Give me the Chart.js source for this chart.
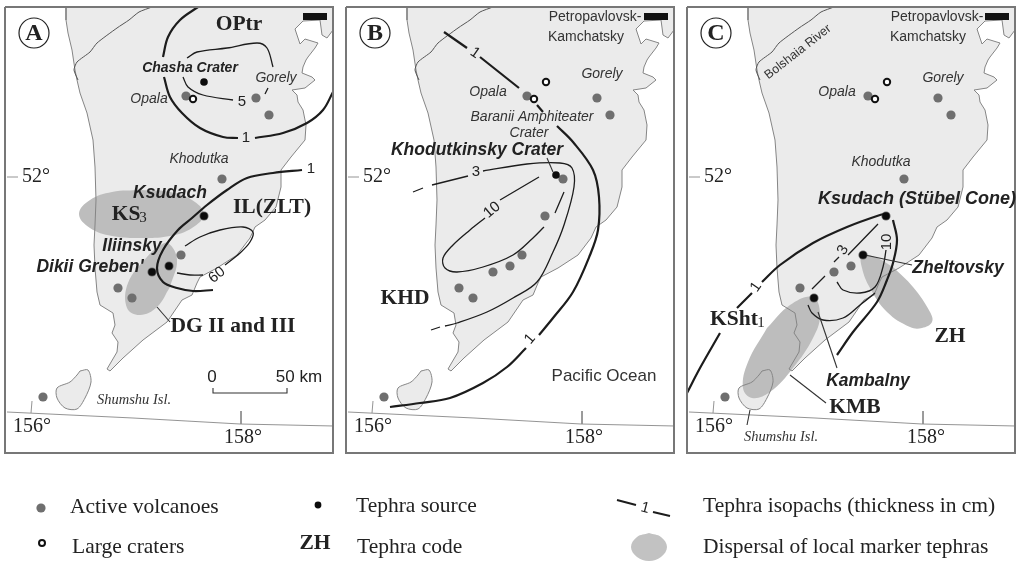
<!DOCTYPE html>
<html>
<head>
<meta charset="utf-8">
<title>Kamchatka tephra maps</title>
<script src="https://cdn.jsdelivr.net/npm/chart.js@4"></script>
<style>
  html, body { margin: 0; padding: 0; background: #fff; }
  canvas { position: absolute; }
</style>
</head>
<body>
<canvas id="panelA" width="340" height="460" style="left:0;top:0"></canvas>
<canvas id="panelB" width="340" height="460" style="left:341px;top:0"></canvas>
<canvas id="panelC" width="340" height="460" style="left:682px;top:0"></canvas>
<canvas id="legend" width="1022" height="101" style="left:0;top:460px"></canvas>
<script>
var coastline = [[66,7],[66,20],[68,33],[72,50],[75,70],[77,80],[80,93],[87,113],[93,140],[95,167],[96,200],[95,225],[94,245],[95,268],[97,292],[100,305],[113,313],[115,325],[112,333],[118,342],[117,352],[107,369],[110,371],[123,358],[143,340],[167,322],[182,300],[192,295],[197,283],[200,277],[217,268],[237,255],[250,238],[255,227],[265,220],[276,207],[281,187],[281,170],[291,157],[305,140],[306,125],[303,110],[298,102],[297,95],[292,90],[305,88],[315,80],[312,77],[302,73],[303,67],[306,60],[308,57],[315,48],[318,43],[305,39],[300,44],[298,38],[295,29],[303,21],[320,20],[322,35],[327,38],[333,30]];
var landCorner = [[333,7],[66,7]];
var island = [[80,371],[88,370],[91,382],[85,398],[77,409],[65,408],[57,398],[57,388],[70,382],[77,375],[80,371]];
var river = [[152,7],[139,12],[129,20],[117,28],[97,43],[90,52],[77,62],[74,70],[78,80]];
var parallel = [[7,412],[133,418],[240,424],[334,426]];
var tick156 = [[32,401],[31,413]];
var tick158 = [[241,411],[241,424]];
var tick52 = [[7,177],[18,177]];
var frame = [[5,7],[333,7],[333,453],[5,453],[5,7]];
var city = [[303,16.5],[327,16.5]];
var letterRing = [[34,33]];

var activeVolcanoes = [[186,96],[256,98],[269,115],[222,179],[204,216],[181,255],[169,266],[152,272],[118,288],[132,298],[43,397]];
var cratersBC = [[205,82],[193,99]];
var craterA = [[193,99]];
var sourcesA = [[204,82],[204,216],[169,266],[152,272]];
var sourcesB = [[215,175]];
var sourcesC = [[204,216],[181,255],[132,298]];

// dispersal outlines, each starts on a long side so the seam does not show
var ks3 = [[141,190],[170,192],[192,200],[204,214],[192,228],[170,236],[141,238],[112,236],[90,228],[79,214],[90,200],[112,192],[141,190]];
var dg = [[170,287],[157,307],[140,315],[127,308],[128,283],[147,257],[158,247],[168,243],[177,260],[170,287]];
var zh = [[211,267],[231,287],[248,312],[250,322],[240,328],[228,327],[205,312],[188,288],[180,268],[180,255],[195,258],[211,267]];
var kmb = [[85,328],[108,305],[131,297],[138,315],[131,338],[111,368],[88,392],[70,398],[61,388],[66,362],[85,328]];

// isopachs, a null pair is a gap in the line
var gap = [null,null];
var opTr1 = [[198,7],[180,20],[168,37],[163,57],gap,[164,77],[170,97],[182,113],[200,128],[223,137],[238,138],gap,[255,138],[283,133],[307,123],[323,110],[333,92]];
var opTr5a = [[187,58],[197,52],[227,48],[257,43],[267,48],[273,67],gap,[268,88],[265,94]];
var opTr5b = [[183,77],[188,87],[203,95],[233,100]];
var il1 = [[302,170],[273,173],[247,178],[227,190],[207,205],[192,218],[178,230],[163,250],[157,268],[163,282],[177,288],[193,291],[213,290]];
var il60 = [[185,246],[200,237],[220,230],[243,227],[253,232],[250,242],[240,253],[225,265],gap,[203,275],[190,275],[177,273]];
var khd1 = [[103,32],[126,48],gap,[139,57],[178,88],gap,[196,105],[202,112],gap,[216,126],[232,142],[252,170],[258,197],[257,230],[249,255],[232,292],[212,318],[198,335],gap,[185,348],[166,367],[142,383],[109,398],[79,403],[49,407]];
var khd3 = [[72,192],[82,188],gap,[91,185],[127,176],gap,[142,171],[186,164],[219,163],[231,168],[233,187],[223,225],[212,252],[196,282],[172,298],[146,312],[116,323],[104,326],gap,[99,327],[90,330]];
var khd10 = [[198,177],[159,200],gap,[144,218],[129,230],[112,245],[102,258],[104,268],[116,272],[142,267],[172,255],[192,238],[203,227],gap,[214,213],[223,192]];
var ksht1a = [[5,393],[18,368],[38,333],gap,[55,308],[70,293],gap,[80,282],[98,265],[131,243],[165,227],[198,215],[204,214]];
var ksht1b = [[211,220],[215,240],[211,263],[205,280],[195,302],[171,332],[155,355]];
var ksht10 = [[204,250],[201,267],[193,287],[178,293],[161,290],[155,282]];
var ksht3a = [[196,224],[166,255],gap,[157,257],[152,262],gap,[143,276],[130,289]];
var ksht3b = [[126,305],[130,313],[141,320],[161,318],[178,305],[193,293]];

// leader lines
var leaderDG = [[157,307],[170,322]];
var scaleBar = [[213,388],[213,393],[287,393],[287,388]];
var leaderKhod = [[206,158],[212,172]];
var leaderZhel = [[183,255],[230,265]];
var leaderKamb = [[136,312],[155,368]];
var leaderKmb = [[108,375],[144,403]];
var leaderShum = [[68,410],[65,425]];

// legend, in page units
var legendVolcano = [[41,508]];
var legendCrater = [[42,543]];
var legendSource = [[318,505]];
var legendIsopach = [[617,500],[636,505],gap,[653,512],[670,516]];
var legendDispersal = [[649,533],[661,537],[667,547],[661,557],[649,561],[637,557],[631,547],[637,537],[649,533]];

// text, style, x, y, rotation
var labelsShared = [['52°','deg',36,177],['156°','deg',32,427]];
var labelsA = [
  ['A','letter',34,34],['OPtr','code',239,24],['Chasha Crater','srcS',190,68],['Gorely','name',276,78],['Opala','name',149,99],['5','num',242,102],['1','num',246,138],
  ['Khodutka','nameS',199,159],['KS','code',126,214],['3','sub',143,218],['Ksudach','src',170,193],['IL(ZLT)','code',272,207],['1','num',311,169],
  ['Iliinsky','src',132,246],["Dikii Greben'",'src',90,267],['DG II and III','code',233,326],['60','num',217,275,-38],
  ['0','km',212,377],['50 km','km',299,377],['Shumshu Isl.','isl',134,400],['158°','deg',243,438]
];
var labelsB = [
  ['B','letter',34,34],['Petropavlovsk-','place',254,17],['Kamchatsky','place',245,37],['Opala','name',147,92],['Gorely','name',261,74],
  ['Baranii Amphiteater','name',191,117],['Crater','name',188,133],['Khodutkinsky Crater','src',136,150],['KHD','code',64,298],['Pacific Ocean','ocean',263,376],
  ['3','num',135,172],['10','num',151,210,-40],['1','num',134,53,35],['1','num',189,339,-50],['158°','deg',243,438]
];
var labelsC = [
  ['C','letter',34,34],['Petropavlovsk-','place',255,17],['Kamchatsky','place',246,37],['Bolshaia River','river',116,52,-38],['Opala','name',155,92],['Gorely','name',261,78],
  ['Khodutka','nameS',199,162],['Ksudach (Stübel Cone)','srcL',235,199],['Zheltovsky','src',276,268],['KSht','code',52,319],['1','sub',79,323],
  ['Kambalny','src',186,381],['KMB','code',173,407],['ZH','code',268,336],['3','num',161,250,-60],['10','num',205,242,-90],['1','num',74,287,-55],
  ['Shumshu Isl.','isl',99,437],['158°','deg',244,438]
];
var labelsLegend = [
  ['Active volcanoes','keyL',70,507],['Large craters','keyL',72,547],['Tephra source','keyL',356,506],['ZH','code',315,543],['Tephra code','keyL',357,547],
  ['Tephra isopachs (thickness in cm)','keyL',703,506],['Dispersal of local marker tephras','keyL',703,547],['1','num',645,508,15]
];

var fonts = {
  deg:    { font: '20px "Liberation Serif"', color: '#222' },
  letter: { font: 'bold 24px "Liberation Serif"', color: '#222' },
  code:   { font: 'bold 21.5px "Liberation Serif"', color: '#222' },
  sub:    { font: '15px "Liberation Serif"', color: '#222' },
  src:    { font: 'italic bold 17.5px "Liberation Sans"', color: '#222' },
  srcS:   { font: 'italic bold 14px "Liberation Sans"', color: '#222' },
  srcL:   { font: 'italic bold 18px "Liberation Sans"', color: '#222' },
  name:   { font: 'italic 14px "Liberation Sans"', color: '#333' },
  nameS:  { font: 'italic 14px "Liberation Sans"', color: '#333' },
  num:    { font: '15px "Liberation Sans"', color: '#222' },
  km:     { font: '17px "Liberation Sans"', color: '#222' },
  place:  { font: '14px "Liberation Sans"', color: '#333' },
  ocean:  { font: '17px "Liberation Sans"', color: '#333' },
  river:  { font: '12.5px "Liberation Sans"', color: '#333' },
  isl:    { font: 'italic 14.5px "Liberation Serif"', color: '#333' },
  keyL:   { font: '21.5px "Liberation Serif"', color: '#222', align: 'left' }
};

function pts(list) {
  return list.map(function(p) { return { x: p[0], y: p[1] }; });
}

function line(data, color, width, tension) {
  return { data: pts(data), showLine: true, borderColor: color, borderWidth: width, pointRadius: 0, tension: tension || 0, fill: false };
}

function shape(data, color, tension) {
  return { data: pts(data), showLine: true, borderWidth: 0, borderColor: 'rgba(0,0,0,0)', backgroundColor: color, pointRadius: 0, tension: tension || 0, fill: 'shape' };
}

function dots(data, radius, fillColor, strokeColor, strokeWidth) {
  return { data: pts(data), showLine: false, pointRadius: radius, pointBackgroundColor: fillColor, pointBorderColor: strokeColor || fillColor, pointBorderWidth: strokeWidth || 0 };
}

var textPlugin = {
  id: 'mapText',
  afterDatasetsDraw: function(chart, args, opts) {
    var ctx = chart.ctx;
    (opts.items || []).forEach(function(item) {
      var style = fonts[item[1]];
      ctx.save();
      ctx.translate(chart.scales.x.getPixelForValue(item[2]), chart.scales.y.getPixelForValue(item[3]));
      if (item[4]) ctx.rotate(item[4] * Math.PI / 180);
      ctx.font = style.font;
      ctx.fillStyle = style.color;
      ctx.textAlign = style.align || 'center';
      ctx.textBaseline = 'middle';
      ctx.fillText(item[0], 0, 0);
      ctx.restore();
    });
  }
};

// first listed is drawn at the bottom, chart.js draws the other way round
function draw(id, xMin, xMax, yMin, yMax, sets, items) {
  new Chart(document.getElementById(id), {
    type: 'scatter',
    data: { datasets: sets.slice().reverse() },
    plugins: [textPlugin],
    options: {
      responsive: false,
      animation: false,
      events: [],
      layout: { autoPadding: false, padding: 0 },
      scales: {
        x: { type: 'linear', display: false, min: xMin, max: xMax },
        y: { type: 'linear', display: false, reverse: true, min: yMin, max: yMax }
      },
      plugins: { legend: { display: false }, tooltip: { enabled: false }, mapText: { items: items } }
    }
  });
}

var LAND = '#ebebeb', COAST = '#858585', SPREAD = '#bdbdbd', INK = '#1c1c1c';

function panel(id, spreads, isopachs, thin, leaders, sources, craters, items) {
  var sets = [
    shape(coastline.concat(landCorner), LAND),
    shape(island, LAND, 0.3)
  ];
  spreads.forEach(function(s) { sets.push(shape(s, SPREAD, 0.4)); });
  sets.push(line(coastline, COAST, 1), line(island, COAST, 1, 0.3), line(river, '#555', 1, 0.2));
  sets.push(line(parallel, '#888', 0.9), line(tick156, '#888', 0.9), line(tick158, '#888', 0.9), line(tick52, '#888', 0.9));
  sets.push(dots(activeVolcanoes, 4.6, '#6f6f6f'));
  isopachs.forEach(function(s) { sets.push(line(s, INK, 2.2, 0.35)); });
  thin.forEach(function(s) { sets.push(line(s, INK, 1.3, 0.35)); });
  leaders.forEach(function(s) { sets.push(line(s, '#333', 1.1)); });
  sets.push(dots(sources, 3.8, '#0c0c0c'));
  sets.push(dots(craters, 3.2, '#fff', '#111', 2));
  sets.push(line(city, '#111', 7));
  sets.push(dots(letterRing, 15, '#fff', '#222', 1.2));
  sets.push(line(frame, '#777', 2));
  draw(id, 0, 340, 0, 460, sets, labelsShared.concat(items));
}

panel('panelA', [ks3, dg], [opTr1, il1], [opTr5a, opTr5b, il60], [leaderDG, scaleBar], sourcesA, craterA, labelsA);
panel('panelB', [], [khd1], [khd3, khd10], [leaderKhod], sourcesB, cratersBC, labelsB);
panel('panelC', [kmb, zh], [ksht1a, ksht1b], [ksht10, ksht3a, ksht3b], [leaderZhel, leaderKamb, leaderKmb, leaderShum], sourcesC, cratersBC, labelsC);

draw('legend', 0, 1022, 460, 561, [
  shape(legendDispersal, '#c2c2c2', 0.4),
  dots(legendVolcano, 4.6, '#6f6f6f'),
  dots(legendSource, 3.4, '#0c0c0c'),
  dots(legendCrater, 3, '#fff', '#111', 2),
  line(legendIsopach, INK, 2)
], labelsLegend);
</script>
</body>
</html>
